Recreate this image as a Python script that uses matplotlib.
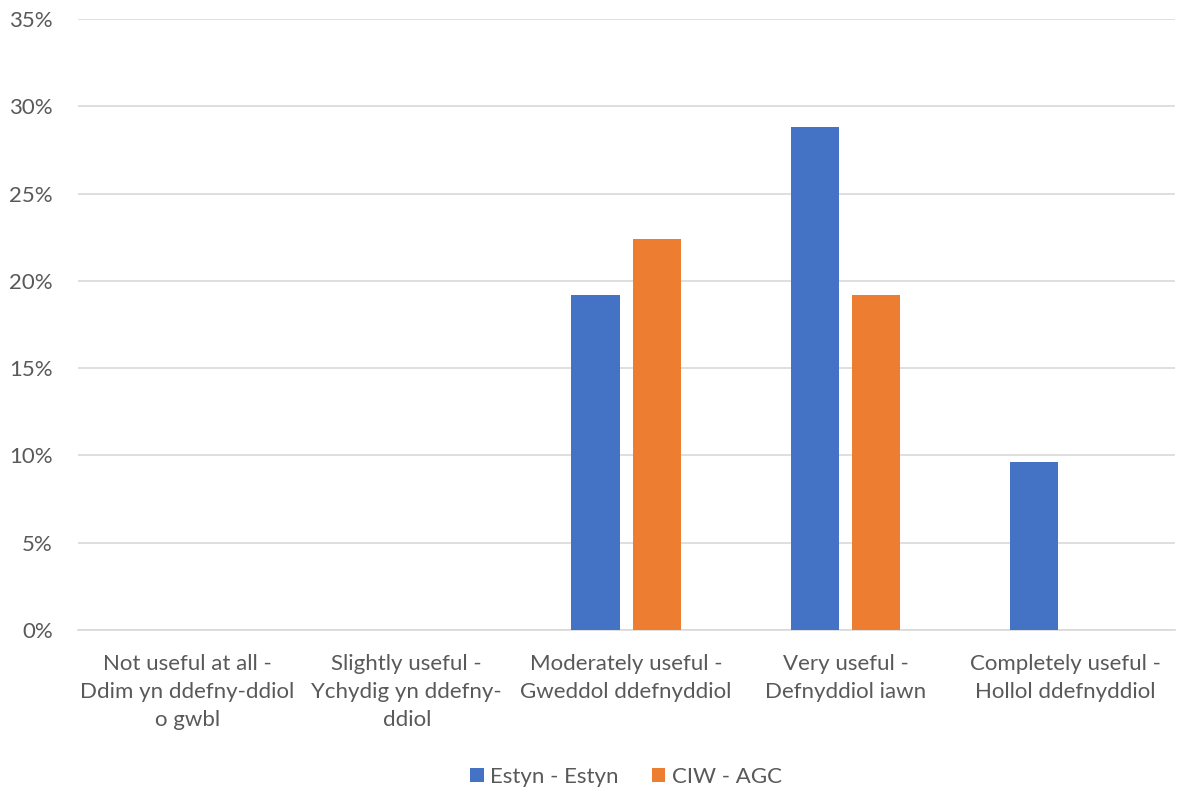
import numpy as np
import matplotlib.pyplot as plt
from matplotlib.ticker import PercentFormatter

plt.rcParams['font.family'] = ['Lato', 'DejaVu Sans']

categories = [
    'Not useful at all -\nDdim yn ddefny-ddiol\no gwbl',
    'Slightly useful -\nYchydig yn ddefny-\nddiol',
    'Moderately useful -\nGweddol ddefnyddiol',
    'Very useful -\nDefnyddiol iawn',
    'Completely useful -\nHollol ddefnyddiol',
]
estyn = [0, 0, 19.2, 28.8, 9.6]
ciw = [0, 0, 22.4, 19.2, 0]

blue = '#4472C4'
orange = '#ED7D31'
grey = '#595959'

fig = plt.figure(figsize=(11.77, 7.92), dpi=100)
ax = fig.add_axes([0.066, 0.2045, 0.932, 0.7715])

x = np.arange(len(categories))
w = 0.22
ax.bar(x - 0.14, estyn, w, color=blue, label='Estyn - Estyn', zorder=3)
ax.bar(x + 0.14, ciw, w, color=orange, label='CIW - AGC', zorder=3)

ax.set_xlim(-0.5, len(categories) - 0.5)
ax.set_ylim(0, 35)
ax.set_yticks(np.arange(0, 36, 5))
ax.yaxis.set_major_formatter(PercentFormatter(decimals=0))
ax.grid(axis='y', color='#D9D9D9', linewidth=1.2, zorder=0)
for s in ['top', 'right', 'left']:
    ax.spines[s].set_visible(False)
ax.spines['bottom'].set_color('#D9D9D9')
ax.spines['bottom'].set_linewidth(1.2)

ax.set_xticks(x)
ax.set_xticklabels(categories, fontsize=16, color=grey, linespacing=1.5)
ax.tick_params(axis='x', length=0, pad=17)
ax.tick_params(axis='y', length=0, labelsize=16, labelcolor=grey, pad=18)

ax.legend(loc='lower center', bbox_to_anchor=(0.5, -0.29), ncol=2, frameon=False,
          fontsize=16, labelcolor=grey, handlelength=0.6, handleheight=0.6,
          columnspacing=1.5, handletextpad=0.3)

fig.savefig('out.png', dpi=100)
